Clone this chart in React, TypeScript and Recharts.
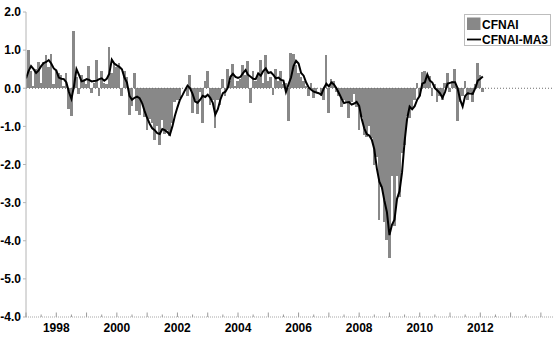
import React from 'react';
import { ComposedChart, Bar, Line, XAxis, YAxis, ReferenceLine, Legend } from 'recharts';

const START_YEAR = 1997;

// Monthly CFNAI, Jan 1997 .. Feb 2012 (one row per year)
const cfnai = [
  0.3, 1.0, 0.45, 0.05, 0.5, 0.7, 0.15, 0.7, 0.87, 0.55, 0.9, 0.1,
  0.45, 0.4, 0.35, 0.05, 0.4, -0.55, -0.72, 1.5, 0.3, -0.15, 0.35, 0.25,
  0.1, 0.58, -0.13, 0.15, 0.75, -0.2, 0.45, 0.15, 0.1, 1.07, 0.4, 0.65,
  0.55, 0.65, -0.2, 0.45, 0.3, -0.7, -0.46, 0.41, -0.6, -0.7, -0.35, -0.75,
  -1.1, -0.8, -0.9, -1.35, -1.0, -1.5, -0.83, -1.2, -1.1, -1.25, -0.9, -0.35,
  -0.3, -0.25, 0.0, 0.0, -0.2, 0.35, -0.64, -0.3, -0.67, -0.1, -0.92, 0.2,
  0.46, -0.45, -0.3, -1.05, -0.3, -0.45, 0.25, -0.2, 0.5, 0.2, 0.64, 0.05,
  0.2, 0.25, 0.62, 0.35, 0.71, -0.39, 0.45, 0.2, 0.4, 0.74, 0.15, 0.87,
  0.2, 0.3, -0.18, 0.5, 0.2, 0.45, 0.1, 0.15, -0.87, 0.92, 0.9, 0.6,
  0.4, 0.3, 0.2, 0.05, -0.2, 0.15, -0.25, -0.1, 0.0, -0.2, -0.3, 0.87,
  -0.64, 0.25, 0.2, -0.1, -0.2, -0.48, -0.3, -0.35, -0.79, -0.35, -0.15, -0.5,
  -1.09, -0.75, -1.22, -1.27, -1.0, -1.3, -2.0, -1.8, -3.45, -2.6, -3.5, -3.97,
  -4.45, -2.3, -3.6, -2.3, -2.84, -1.7, -1.5, -0.74, -0.78, -0.5, -0.3, 0.13,
  -0.2, 0.43, 0.46, 0.3, 0.32, -0.2, 0.1, -0.35, -0.2, -0.3, 0.15, 0.39,
  -0.1, 0.2, 0.5, -0.85, -0.35, -0.2, 0.2, -0.3, -0.1, -0.35, 0.1, 0.67,
  0.35, -0.09,
];

// CFNAI three-month moving average
const ma3 = [
  0.26, 0.45, 0.58, 0.5, 0.4, 0.47, 0.58, 0.66, 0.69, 0.74, 0.65, 0.52,
  0.47, 0.28, 0.25, 0.24, 0.15, -0.1, -0.28, 0.05, 0.5, 0.35, 0.18, 0.2,
  0.24, 0.22, 0.18, 0.19, 0.2, 0.24, 0.26, 0.2, 0.25, 0.38, 0.75, 0.65,
  0.6, 0.56, 0.5, 0.28, 0.15, -0.2, -0.3, -0.25, -0.22, -0.26, -0.39, -0.6,
  -0.78, -0.93, -1.05, -1.1, -1.18, -1.2, -1.07, -1.1, -1.15, -1.22, -1.0, -0.72,
  -0.5, -0.3, -0.18, -0.05, 0.07, 0.0, -0.15, -0.35, -0.38, -0.3, -0.2, -0.23,
  -0.17, -0.25, -0.38, -0.69, -0.55, -0.3, -0.13, -0.09, 0.02, 0.3, 0.38, 0.3,
  0.27, 0.3, 0.4, 0.48, 0.35, 0.3, 0.25, 0.24, 0.39, 0.33, 0.45, 0.52,
  0.4, 0.42, 0.35, 0.26, 0.28, 0.22, 0.2, -0.1, 0.1, 0.28, 0.58, 0.72,
  0.65, 0.4, 0.33, 0.15, 0.02, -0.04, -0.09, -0.11, -0.13, -0.17, 0.0, 0.12,
  0.05, 0.15, 0.1, 0.0, -0.13, -0.27, -0.39, -0.37, -0.36, -0.43, -0.4, -0.36,
  -0.46, -0.8, -1.05, -1.2, -1.24, -1.35, -1.6, -2.1, -2.45, -2.6, -2.95, -3.25,
  -3.85, -3.58, -3.45, -2.9, -2.7, -2.2, -1.4, -0.8, -0.48, -0.55, -0.47, -0.3,
  -0.2, 0.12, 0.15, 0.36, 0.2, 0.15, 0.0, -0.06, -0.13, -0.25, -0.1, 0.12,
  0.14, 0.16, 0.16, 0.0, -0.3, -0.48, -0.2, -0.13, -0.14, -0.15, 0.0, 0.2,
  0.25, 0.31,
];

const xTicks = [
  1997, 1997.5, 1998, 1998.5, 1999, 1999.5, 2000, 2000.5, 2001, 2001.5,
  2002, 2002.5, 2003, 2003.5, 2004, 2004.5, 2005, 2005.5, 2006, 2006.5,
  2007, 2007.5, 2008, 2008.5, 2009, 2009.5, 2010, 2010.5, 2011, 2011.5,
  2012, 2012.5, 2013, 2013.5, 2014,
];
const xLabelYears = [1998, 2000, 2002, 2004, 2006, 2008, 2010, 2012];
const yTicks = [2, 1, 0, -1, -2, -3, -4, -5, -6];
const yTickLabels = ['2.0', '1.0', '0.0', '-1.0', '-2.0', '-3.0', '-4.0', '-5.0', '-4.0'];

const rows = cfnai.map((v, i) => ({ t: START_YEAR + i / 12, cfnai: v, ma3: ma3[i] }));

const FONT = '"Liberation Sans", Arial, Helvetica, sans-serif';
const BAR_WIDTH = 2.7;

function XTick(props: any) {
  const { x, y, payload } = props;
  const v = payload.value;
  const major = Math.abs(v - Math.round(v)) < 1e-6;
  const show = xLabelYears.includes(Math.round(v)) && major;
  return (
    <g>
      <line x1={x} x2={x} y1={y} y2={y - (major ? 4.5 : 2.5)} stroke="#9a9a9a" strokeWidth={1} />
      {show && (
        <text x={x} y={y + 15} textAnchor="middle" fontFamily={FONT} fontWeight="bold" fontSize={12} fill="#000">
          {Math.round(v)}
        </text>
      )}
    </g>
  );
}

function YTick(props: any) {
  const { x, y, payload } = props;
  const idx = yTicks.indexOf(payload.value);
  return (
    <text x={x} y={y + 4.3} textAnchor="end" fontFamily={FONT} fontWeight="bold" fontSize={12} fill="#000">
      {idx >= 0 ? yTickLabels[idx] : ''}
    </text>
  );
}

// Bar shape: centred on the month, wide enough that neighbouring months touch
function MonthBar(props: any) {
  const { x, y, width, height, fill } = props;
  if (x == null || y == null || !height) return null;
  const cx = x + (width || 0) / 2;
  const top = Math.min(y, y + height);
  const h = Math.abs(height);
  return (
    <rect
      x={cx - BAR_WIDTH / 2}
      y={top}
      width={BAR_WIDTH}
      height={h}
      fill={fill}
      shapeRendering="crispEdges"
    />
  );
}

function LegendBox(props: any) {
  const payload = props.payload || [];
  return (
    <svg width={87} height={32} style={{ display: 'block' }}>
      <rect x={0.5} y={0.5} width={86} height={31} fill="#fff" stroke="#bdbdbd" strokeWidth={1} />
      {payload.map((p: any, i: number) => {
        const rowY = i * 15.5;
        return (
          <g key={i}>
            {p.type === 'line' ? (
              <line x1={3} x2={17} y1={rowY + 10} y2={rowY + 10} stroke="#000" strokeWidth={1.8} />
            ) : (
              <rect x={3} y={rowY + 3.5} width={13.5} height={12.5} fill="#888888" />
            )}
            <text x={18} y={rowY + 14.5} fontFamily={FONT} fontWeight="bold" fontSize={12} fill="#000">
              {p.value}
            </text>
          </g>
        );
      })}
    </svg>
  );
}

export default function App() {
  return (
    <div style={{ position: 'absolute', left: 0, top: 0, background: '#fff' }}>
      <ComposedChart width={560} height={339} data={rows} margin={{ top: 12, right: 7, left: 0, bottom: 0 }}>
        <XAxis
          type="number"
          dataKey="t"
          domain={[1997, 2014.4]}
          allowDataOverflow
          ticks={xTicks}
          interval={0}
          height={22}
          tickSize={0}
          tickMargin={0}
          tickLine={false}
          axisLine={{ stroke: '#a8a8a8', strokeDasharray: '1 1' }}
          tick={<XTick />}
        />
        <YAxis
          type="number"
          domain={[-6, 2]}
          ticks={yTicks}
          interval={0}
          width={26}
          tickSize={3}
          tickMargin={2}
          axisLine={{ stroke: '#b4b4b4' }}
          tickLine={{ stroke: '#b4b4b4' }}
          tick={<YTick />}
        />
        <ReferenceLine y={0} stroke="#6e6e6e" strokeDasharray="1 2" />
        <Bar dataKey="cfnai" name="CFNAI" fill="#888888" barSize={2} shape={<MonthBar />} isAnimationActive={false} />
        <Line
          dataKey="ma3"
          name="CFNAI-MA3"
          type="linear"
          stroke="#000"
          strokeWidth={2}
          dot={false}
          activeDot={false}
          isAnimationActive={false}
        />
        <Legend
          layout="vertical"
          align="center"
          verticalAlign="middle"
          wrapperStyle={{ left: 464, top: 14, width: 87, height: 32 }}
          content={<LegendBox />}
        />
      </ComposedChart>
    </div>
  );
}
